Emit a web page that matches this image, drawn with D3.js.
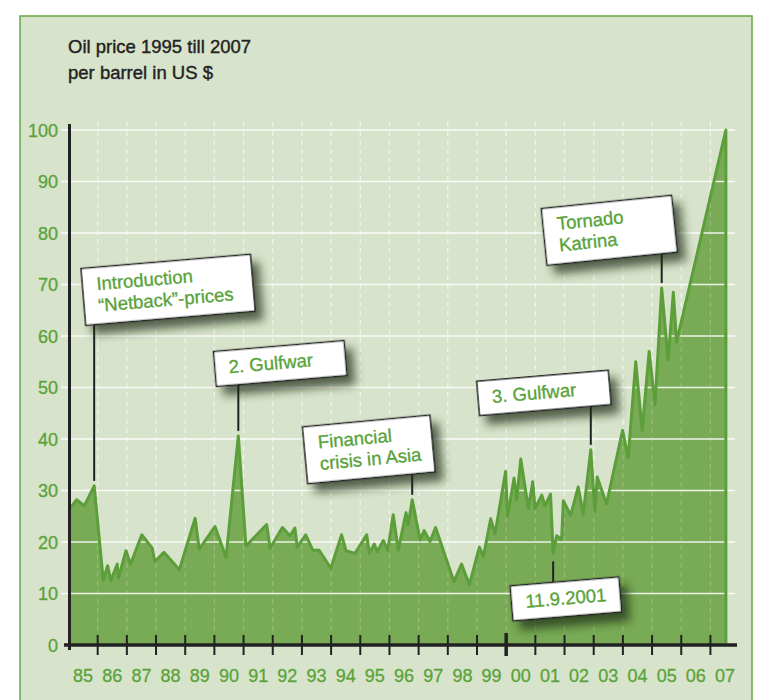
<!DOCTYPE html>
<html>
<head>
<meta charset="utf-8">
<script src="https://cdn.jsdelivr.net/npm/d3@7"></script>
<style>
  html, body { margin: 0; padding: 0; background: #ffffff; }
  svg { display: block; }
  text { font-family: "Liberation Sans", Arial, Helvetica, sans-serif; }
</style>
</head>
<body>
<div id="chart"></div>
<script>
// ---------------- DATA ----------------
const titleLines = ["Oil price 1995 till 2007", "per barrel in US $"];

// decimal year of each turning point
const dates = [
  1985.05, 1985.28, 1985.54, 1985.88, 1986.19, 1986.34, 1986.45, 1986.67, 1986.71, 1986.97,
  1987.13, 1987.51, 1987.87, 1987.96, 1988.27, 1988.80, 1989.34, 1989.48, 1990.02, 1990.40,
  1990.82, 1991.08, 1991.79, 1991.91, 1992.33, 1992.59, 1992.76, 1992.84, 1993.13, 1993.37,
  1993.59, 1993.99, 1994.36, 1994.51, 1994.82, 1995.22, 1995.31, 1995.48, 1995.58, 1995.79,
  1995.94, 1996.13, 1996.30, 1996.57, 1996.64, 1996.78, 1997.05, 1997.19, 1997.39, 1997.58,
  1998.21, 1998.47, 1998.74, 1999.08, 1999.22, 1999.47, 1999.62, 1999.98, 2000.05, 2000.27,
  2000.36, 2000.50, 2000.76, 2000.91, 2000.99, 2001.22, 2001.33, 2001.52, 2001.61, 2001.73,
  2001.90, 2001.96, 2002.21, 2002.47, 2002.64, 2002.90, 2003.04, 2003.12, 2003.44, 2003.99,
  2004.18, 2004.44, 2004.66, 2004.90, 2005.10, 2005.33, 2005.55, 2005.73, 2005.84, 2007.53
];
// oil price, US $ per barrel
const prices = [
  26.5, 28.2, 27.0, 30.9, 12.6, 15.4, 12.5, 15.7, 13.0, 18.3,
  15.7, 21.4, 18.8, 16.2, 18.0, 14.6, 24.6, 18.6, 23.0, 17.0,
  40.6, 19.2, 23.4, 18.8, 22.8, 21.2, 22.7, 19.0, 21.4, 18.4,
  18.4, 14.9, 21.4, 18.3, 17.8, 21.4, 17.8, 19.6, 18.1, 20.3,
  18.4, 25.3, 18.4, 25.7, 23.3, 28.2, 20.4, 22.2, 20.1, 22.8,
  12.3, 15.7, 11.7, 19.0, 17.2, 24.5, 21.6, 33.7, 25.0, 32.4,
  28.2, 36.1, 26.5, 31.7, 26.5, 29.1, 27.0, 29.3, 17.8, 21.2,
  20.5, 28.0, 25.2, 30.7, 25.4, 37.9, 25.9, 32.6, 27.4, 41.7,
  36.3, 55.0, 41.6, 57.0, 46.6, 69.3, 55.3, 68.5, 58.8, 100.0
];

const yearLabels = ["85","86","87","88","89","90","91","92","93","94","95","96",
                    "97","98","99","00","01","02","03","04","05","06","07"];
const yTickValues = [0, 10, 20, 30, 40, 50, 60, 70, 80, 90, 100];

// annotation texts and the data point (index) each one points to
const annotationTexts = [
  ["Introduction", "\u201CNetback\u201D-prices"],
  ["2. Gulfwar"],
  ["Financial", "crisis in Asia"],
  ["3. Gulfwar"],
  ["Tornado", "Katrina"],
  ["11.9.2001"]
];
const annotationPointIndex = [3, 20, 45, 75, 85, 68];

// ---------------- LAYOUT ----------------
const W = 761, H = 700;
const colors = {
  panel: "#d8e3cb",
  panelStroke: "#6dac4c",
  fill: "#79ab56",
  line: "#5c9e3a",
  green: "#5aa33a",
  dark: "#222222"
};
// box placements (layout only)
const boxLayout = [
  { cx: 168.1, cy: 289.8, w: 170, h: 57, angle: -4.8, below: false },
  { cx: 280.2, cy: 363.5, w: 131, h: 35, angle: -4.8, below: false },
  { cx: 368.8, cy: 449.4, w: 128, h: 57, angle: -5.3, below: false },
  { cx: 543.9, cy: 392.9, w: 132, h: 34.5, angle: -4.8, below: false },
  { cx: 609.3, cy: 230.3, w: 131, h: 57, angle: -5.8, below: false },
  { cx: 565.9, cy: 598.9, w: 109, h: 35, angle: -4.7, below: true }
];

const svg = d3.select("#chart").append("svg")
  .attr("width", W).attr("height", H);

const defs = svg.append("defs");
const f = defs.append("filter").attr("id", "shadow")
  .attr("x", "-30%").attr("y", "-40%").attr("width", "170%").attr("height", "220%");
f.append("feDropShadow").attr("dx", 7).attr("dy", 9).attr("stdDeviation", 5)
  .attr("flood-color", "#1b2a12").attr("flood-opacity", 0.7);

// panel
svg.append("rect").attr("x", 20).attr("y", 16).attr("width", 732).attr("height", 720)
  .attr("fill", colors.panel).attr("stroke", colors.panelStroke).attr("stroke-width", 1.6);

// title
svg.append("g").selectAll("text").data(titleLines).join("text")
  .attr("x", 68).attr("y", (d, i) => 53 + i * 26)
  .attr("font-size", 18.5).attr("fill", colors.dark)
  .attr("stroke", colors.dark).attr("stroke-width", 0.4)
  .text(d => d);

// scales
const x = d3.scaleLinear().domain([1985, 2008]).range([68.5, 739.6]);
const y = d3.scaleLinear().domain([0, 100]).range([645, 130]);

const pts = dates.map((d, i) => [d, prices[i]]);

// vertical dashed gridlines at year boundaries
const tickYears = d3.range(1986, 2008);
svg.append("g").selectAll("line").data(tickYears).join("line")
  .attr("x1", d => x(d)).attr("x2", d => x(d))
  .attr("y1", 122).attr("y2", 645)
  .attr("stroke", "#ffffff").attr("stroke-opacity", 0.5)
  .attr("stroke-width", 1.2).attr("stroke-dasharray", "5,4");

// area
const area = d3.area().x(d => x(d[0])).y0(y(0)).y1(d => y(d[1]));
svg.append("path").datum(pts).attr("d", area).attr("fill", colors.fill);

// dashed lines faintly visible over fill
svg.append("g").selectAll("line").data(tickYears).join("line")
  .attr("x1", d => x(d)).attr("x2", d => x(d))
  .attr("y1", 122).attr("y2", 645)
  .attr("stroke", "#ffffff").attr("stroke-opacity", 0.22)
  .attr("stroke-width", 1.2).attr("stroke-dasharray", "5,4");

// horizontal gridlines
svg.append("g").selectAll("line").data(yTickValues.filter(v => v > 0)).join("line")
  .attr("x1", 61).attr("x2", 735)
  .attr("y1", d => y(d)).attr("y2", d => y(d))
  .attr("stroke", "#ffffff").attr("stroke-opacity", 0.85).attr("stroke-width", 1.5);

// line (with right edge down to axis)
const lastPt = pts[pts.length - 1];
const linePts = pts.concat([[lastPt[0], 0]]);
const line = d3.line().x(d => x(d[0])).y(d => y(d[1]));
svg.append("path").datum(linePts).attr("d", line)
  .attr("fill", "none").attr("stroke", colors.line)
  .attr("stroke-width", 3).attr("stroke-linejoin", "round");

// y labels
svg.append("g").selectAll("text").data(yTickValues).join("text")
  .attr("x", 58).attr("y", d => y(d) + 6.5)
  .attr("text-anchor", "end").attr("font-size", 18).attr("fill", colors.green)
  .attr("stroke", colors.green).attr("stroke-width", 0.3)
  .text(d => d);

// y axis line
svg.append("line").attr("x1", 69.5).attr("x2", 69.5).attr("y1", 124).attr("y2", 650)
  .attr("stroke", colors.dark).attr("stroke-width", 3);

// x axis line
svg.append("line").attr("x1", 64).attr("x2", 737).attr("y1", 645).attr("y2", 645)
  .attr("stroke", colors.dark).attr("stroke-width", 3.4);

// ticks
svg.append("g").selectAll("line").data(tickYears).join("line")
  .attr("x1", d => x(d)).attr("x2", d => x(d))
  .attr("y1", d => d === 2000 ? 633 : 635).attr("y2", d => d === 2000 ? 656 : 655)
  .attr("stroke", colors.dark).attr("stroke-width", d => d === 2000 ? 3.5 : 2);

// year labels
svg.append("g").selectAll("text").data(yearLabels).join("text")
  .attr("x", (d, i) => x(1985 + i + 0.5)).attr("y", 682)
  .attr("text-anchor", "middle").attr("font-size", 18).attr("fill", colors.green)
  .attr("stroke", colors.green).attr("stroke-width", 0.3)
  .text(d => d);

// annotations
const rad = a => a * Math.PI / 180;
annotationTexts.forEach((lines, i) => {
  const b = boxLayout[i];
  const p = pts[annotationPointIndex[i]];
  const px = x(p[0]);
  const t = rad(b.angle), c = Math.cos(t), s = Math.sin(t);
  const ly = b.below ? -b.h / 2 : b.h / 2;
  // local x on the edge that has screen x = px
  const lx = (px - b.cx + ly * s) / c;
  const edgeY = b.cy + lx * s + ly * c;
  const dataY = y(p[1]);
  svg.append("line")
    .attr("x1", px).attr("x2", px)
    .attr("y1", b.below ? dataY + 8 : dataY - 5)
    .attr("y2", edgeY)
    .attr("stroke", colors.dark).attr("stroke-width", 2);

  const g = svg.append("g")
    .attr("transform", `translate(${b.cx},${b.cy}) rotate(${b.angle})`);
  g.append("rect")
    .attr("x", -b.w / 2).attr("y", -b.h / 2).attr("width", b.w).attr("height", b.h)
    .attr("fill", "#ffffff").attr("stroke", colors.dark).attr("stroke-width", 1.5)
    .attr("filter", "url(#shadow)");
  g.selectAll("text").data(lines).join("text")
    .attr("x", -b.w / 2 + 14)
    .attr("y", (d, k) => -b.h / 2 + 23 + k * 21.5)
    .attr("font-size", 18.5).attr("fill", colors.green)
    .attr("stroke", colors.green).attr("stroke-width", 0.35)
    .text(d => d);
});
</script>
</body>
</html>
